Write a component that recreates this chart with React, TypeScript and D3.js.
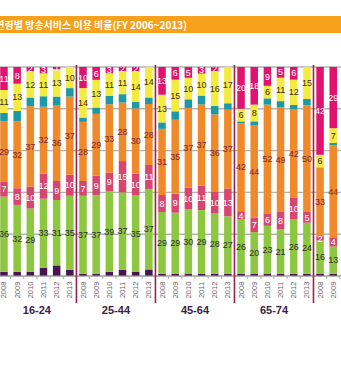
import React from 'react';
import * as d3 from 'd3';

const W = 341;
const H = 365;

const titleText = '연령별 방송서비스 이용 비율(FY 2006~2013)';
const years = ['2008', '2009', '2010', '2011', '2012', '2013'];
const groups = ['16-24', '25-44', '45-64', '65-74', '75+'];

// values per bar (16-24 x6, 25-44 x6, 45-64 x6, 65-74 x6, 75+ x2 visible)
const magentaVals = [11, 8, 2, 3, 1, 0, 10, 6, 3, 2, 2, 0, 13, 6, 5, 3, 2, 0, 20, 18, 9, 5, 6, 0, 42, 29];
const yellowVals = [11, 13, 12, 11, 13, 10, 14, 13, 11, 11, 14, 14, 13, 15, 10, 10, 16, 17, 6, 8, 6, 11, 12, 15, 6, 7];
const tealVals = [4, 5, 4, 5, 4, 4, 2, 3, 4, 4, 3, 3, 3, 4, 4, 4, 4, 3, 1, 2, 3, 3, 2, 3, 0, 1];
const orangeVals = [29, 32, 37, 32, 36, 37, 28, 29, 33, 28, 30, 28, 31, 35, 37, 37, 36, 37, 42, 44, 52, 49, 42, 50, 33, 44];
const roseVals = [7, 8, 10, 12, 9, 10, 7, 9, 9, 15, 10, 11, 8, 9, 10, 11, 10, 13, 4, 7, 6, 8, 10, 5, 2, 4];
const greenVals = [36, 32, 29, 33, 31, 35, 37, 37, 39, 37, 35, 37, 29, 29, 30, 29, 28, 27, 26, 20, 23, 21, 26, 24, 16, 13];
const purpleVals = [2, 2, 2, 4, 5, 3, 1, 1, 2, 3, 2, 3, 1, 1, 1, 1, 1, 1, 1, 1, 1, 1, 1, 1, 1, 1];

const seriesKeys = ['purple', 'green', 'rose', 'orange', 'teal', 'yellow', 'magenta'];
const seriesColors: Record<string, string> = {
  purple: '#4a1450',
  green: '#8dc63f',
  rose: '#d8466f',
  orange: '#f0892a',
  teal: '#1b9aa5',
  yellow: '#f3eb3d',
  magenta: '#e2136e',
};
const labelColors: Record<string, string | null> = {
  purple: null,
  green: '#2e2e2e',
  rose: '#ffffff',
  orange: '#7a2630',
  teal: null,
  yellow: '#3d2b1a',
  magenta: '#ffffff',
};

const slots = groups.flatMap((g) => years.map((yr) => `${g}|${yr}`));
const valueArrays: Record<string, number[]> = {
  purple: purpleVals,
  green: greenVals,
  rose: roseVals,
  orange: orangeVals,
  teal: tealVals,
  yellow: yellowVals,
  magenta: magentaVals,
};

export default function App() {
  const plotTop = 67;
  const plotBottom = 276;
  const step = 13.17;
  const r0 = -2.6;
  const pI = 0.43;

  const x = d3
    .scaleBand<string>()
    .domain(slots)
    .range([r0, r0 + step * slots.length])
    .paddingInner(pI)
    .paddingOuter(pI / 2);
  const y = d3.scaleLinear().domain([0, 1]).range([plotBottom, plotTop]);

  const rows = magentaVals.map((_, i) => {
    const row: any = { key: slots[i] };
    seriesKeys.forEach((k) => (row[k] = valueArrays[k][i]));
    return row;
  });
  const layers = d3.stack<any>().keys(seriesKeys).offset(d3.stackOffsetExpand)(rows);

  const bw = x.bandwidth();
  const st = x.step();
  const gridTicks = y.ticks(5);
  const barSlots = rows.map((r) => r.key as string);

  const groupBounds = [1, 2, 3, 4].map((k) => (x(slots[k * 6]) as number) - (st * pI) / 2);

  return (
    <svg width={W} height={H} style={{ position: 'absolute', left: 0, top: 0, background: '#fff' }}>
      <defs>
        <clipPath id="plotClip">
          <rect x={0} y={plotTop} width={W} height={plotBottom - plotTop} />
        </clipPath>
      </defs>
      <rect x={0} y={0} width={W} height={H} fill="#fff" />
      {/* title bar */}
      <rect x={0} y={16} width={W} height={17} fill="#f6a01b" />
      <text
        x={187}
        y={28.5}
        textAnchor="end"
        fill="#fff"
        fontSize={10}
        fontWeight={700}
        fontFamily="'Noto Sans CJK KR', 'Noto Sans', sans-serif"
      >
        {titleText}
      </text>

      {/* grid */}
      {gridTicks.map((t) => (
        <line key={t} x1={0} x2={W} y1={y(t)} y2={y(t)} stroke="#b3b3b3" strokeWidth={1.4} />
      ))}

      {/* bars */}
      <g>
        {layers.map((layer) => (
          <g key={layer.key} fill={seriesColors[layer.key]}>
            {layer.map((d: any) => (
              <rect
                key={d.data.key}
                x={x(d.data.key)}
                y={y(d[1])}
                width={bw}
                height={Math.max(0, y(d[0]) - y(d[1]))}
              />
            ))}
          </g>
        ))}
      </g>

      {/* labels */}
      <g clipPath="url(#plotClip)" fontFamily="'Liberation Sans', Arial, sans-serif" fontSize={9} textAnchor="middle">
        {layers.map((layer) => {
          const col = labelColors[layer.key];
          if (!col) return null;
          return layer.map((d: any) => {
            const v = d.data[layer.key];
            if (!v) return null;
            return (
              <text
                key={layer.key + d.data.key}
                x={(x(d.data.key) as number) + bw / 2}
                y={(y(d[0]) + y(d[1])) / 2}
                dy="0.35em"
                fill={col}
              >
                {v}
              </text>
            );
          });
        })}
      </g>

      {/* x axis */}
      <line x1={0} x2={W} y1={plotBottom} y2={plotBottom} stroke="#a8a8a8" strokeWidth={1.2} />
      {slots.map((s) => (
        <line
          key={'t' + s}
          x1={(x(s) as number) - (st * pI) / 2}
          x2={(x(s) as number) - (st * pI) / 2}
          y1={plotBottom}
          y2={plotBottom + 3}
          stroke="#a8a8a8"
          strokeWidth={1}
        />
      ))}
      {barSlots.map((s) => {
        const cx = (x(s) as number) + bw / 2;
        const yr = s.split('|')[1];
        return (
          <text
            key={'y' + s}
            transform={`translate(${cx + 2.5},290) rotate(-90)`}
            textAnchor="middle"
            fontSize={7.5}
            fill="#6a5a6a"
            fontFamily="'Liberation Sans', Arial, sans-serif"
          >
            {yr}
          </text>
        );
      })}

      {/* group separators */}
      {groupBounds.map((bx, i) => (
        <line key={'sep' + i} x1={bx} x2={bx} y1={65} y2={303} stroke="#9e1f48" strokeWidth={1.6} />
      ))}

      {/* group labels */}
      {groups.map((g, gi) => {
        const first = x(slots[gi * 6]) as number;
        const last = (x(slots[gi * 6 + 5]) as number) + bw;
        const cx = (first + last) / 2;
        if (cx > W) return null;
        return (
          <text
            key={'g' + g}
            x={cx}
            y={314}
            textAnchor="middle"
            fontSize={11}
            fontWeight={700}
            fill="#3a1d48"
            fontFamily="'Liberation Sans', Arial, sans-serif"
          >
            {g}
          </text>
        );
      })}
    </svg>
  );
}
